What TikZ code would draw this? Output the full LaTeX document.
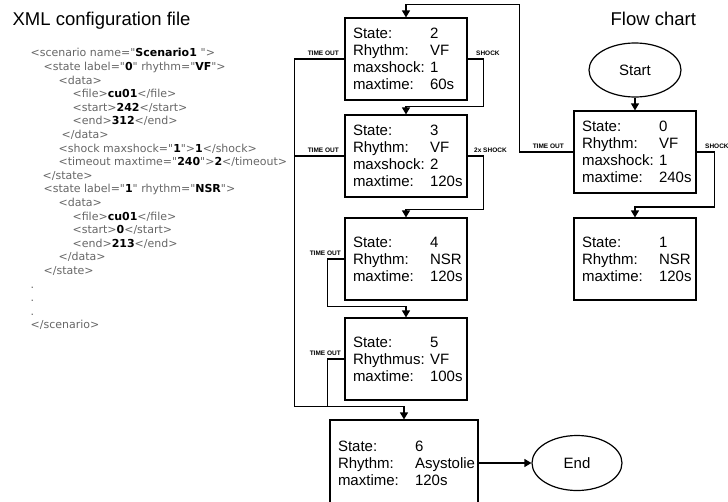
\documentclass[tikz,border=0pt]{standalone}
\usepackage{fontspec}
\setmainfont{Liberation Sans}
\newfontfamily\xmlfont{DejaVu Sans}
\usetikzlibrary{shapes.geometric,arrows.meta,calc}
\definecolor{taggray}{gray}{0.4}
\newcommand{\xv}[1]{{\color{black}\bfseries #1}}
\newcommand{\fld}[2]{\makebox[77pt][l]{#1}#2}

\begin{document}
\begin{tikzpicture}[x=1pt,y=-1pt,line width=1.2pt,
  arr/.style={-{Triangle[length=7pt,width=8pt]}},
  statebox/.style={draw, align=left, text width=106pt, inner xsep=8pt, inner ysep=0pt, minimum height=82pt, font=\fontsize{15}{17}\selectfont},
  term/.style={draw, ellipse, minimum width=92pt, minimum height=54pt, inner sep=0pt, font=\fontsize{15}{17}\selectfont},
  lbl/.style={font=\fontsize{6.5}{7}\selectfont\bfseries, inner sep=0pt},
  title/.style={font=\fontsize{18.5}{22}\selectfont, inner sep=0pt},
  xml/.style={align=left, inner sep=0pt, text=taggray, font=\xmlfont\fontsize{11}{13.6}\selectfont}]
\useasboundingbox (0,0) rectangle (728,501);

\node[title, anchor=base west] (xmltitle) at (12,25) {XML configuration file};
\node[title, anchor=base west] (flowtitle) at (610,25) {Flow chart};

% the scenario file
\node[xml, anchor=north west] (xml) at (30,48) {%
<scenario name="\xv{Scenario1 }">\\
\hspace*{13pt}<state label="\xv{0}" rhythm="\xv{VF}">\\
\hspace*{28pt}<data>\\
\hspace*{42pt}<file>\xv{cu01}</file>\\
\hspace*{42pt}<start>\xv{242}</start>\\
\hspace*{42pt}<end>\xv{312}</end>\\
\hspace*{31pt}</data>\\
\hspace*{28pt}<shock maxshock="\xv{1}">\xv{1}</shock>\\
\hspace*{28pt}<timeout maxtime="\xv{240}">\xv{2}</timeout>\\
\hspace*{12pt}</state>\\
\hspace*{13pt}<state label="\xv{1}" rhythm="\xv{NSR}">\\
\hspace*{28pt}<data>\\
\hspace*{42pt}<file>\xv{cu01}</file>\\
\hspace*{42pt}<start>\xv{0}</start>\\
\hspace*{42pt}<end>\xv{213}</end>\\
\hspace*{28pt}</data>\\
\hspace*{13pt}</state>\\
.\\
.\\
.\\
</scenario>};

% flow chart
\node[term] (start) at (635,70) {Start};
\node[statebox] (s0) at (635,152) {\fld{State:}{0}\\ \fld{Rhythm:}{VF}\\ \fld{maxshock:}{1}\\ \fld{maxtime:}{240s}};
\node[statebox] (s1) at (635,259) {\fld{State:}{1}\\ \fld{Rhythm:}{NSR}\\ \fld{maxtime:}{120s}};
\node[statebox] (s2) at (406,59) {\fld{State:}{2}\\ \fld{Rhythm:}{VF}\\ \fld{maxshock:}{1}\\ \fld{maxtime:}{60s}};
\node[statebox] (s3) at (406,156) {\fld{State:}{3}\\ \fld{Rhythm:}{VF}\\ \fld{maxshock:}{2}\\ \fld{maxtime:}{120s}};
\node[statebox] (s4) at (406,259) {\fld{State:}{4}\\ \fld{Rhythm:}{NSR}\\ \fld{maxtime:}{120s}};
\node[statebox] (s5) at (406,359) {\fld{State:}{5}\\ \fld{Rhythmus:}{VF}\\ \fld{maxtime:}{100s}};
\node[statebox, text width=132pt, minimum height=86pt] (s6) at (404,463) {\fld{State:}{6}\\ \fld{Rhythm:}{Asystolie}\\ \fld{maxtime:}{120s}};
\node[term, minimum width=90pt, minimum height=55pt] (end) at (577,463) {End};

\draw[arr] (start) -- (s0);
\draw[arr] (s0.east) -- ++(18,0) -- ++(0,55) -| (s1.north);
\node[lbl, anchor=south west] (shock0) at ($(s0.east)+(8,-3)$) {SHOCK};
\draw[arr] (s0.west) -- ++(-54,0) |- ($(s2.north)+(0,-13)$) -- (s2.north);
\node[lbl, anchor=south east] (to0) at ($(s0.west)+(-9,-3)$) {TIME OUT};

\draw[arr] (s2.east) -- ++(16,0) |- ($(s3.north)+(0,-8)$) -- (s3.north);
\node[lbl, anchor=south west] (shock2) at ($(s2.east)+(8,-3)$) {SHOCK};
\draw[arr] (s3.east) -- ++(16,0) |- ($(s4.north)+(0,-8)$) -- (s4.north);
\node[lbl, anchor=south west] (shock3) at ($(s3.east)+(6,-3)$) {2x SHOCK};

\coordinate (bot) at ($(s6.north)+(0,-13)$);
\draw[arr] (s2.west) -- ++(-50,0) |- (bot) -- (s6.north);
\draw (s3.west) -- ++(-50,0);
\node[lbl, anchor=south east] (to2) at ($(s2.west)+(-5,-3)$) {TIME OUT};
\node[lbl, anchor=south east] (to3) at ($(s3.west)+(-5,-3)$) {TIME OUT};
\draw[arr] (s4.west) -- ++(-17,0) |- ($(s5.north)+(0,-11)$) -- (s5.north);
\draw (s5.west) -- ++(-17,0) |- (bot);
\node[lbl, anchor=south east] (to4) at ($(s4.west)+(-3,-3)$) {TIME OUT};
\node[lbl, anchor=south east] (to5) at ($(s5.west)+(-3,-3)$) {TIME OUT};

\draw[arr] (s6) -- (end);
\end{tikzpicture}
\end{document}
